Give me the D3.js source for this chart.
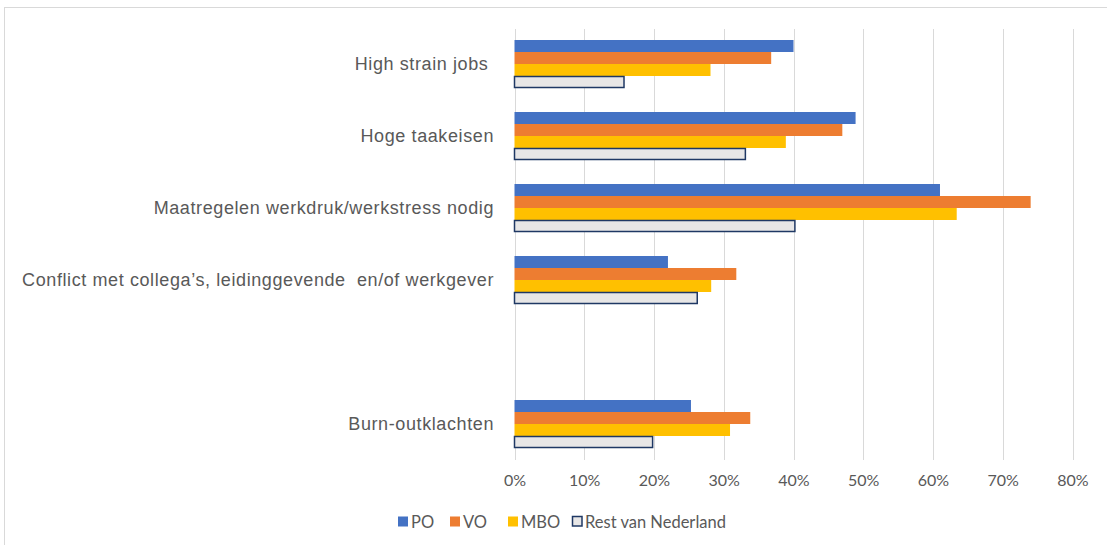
<!DOCTYPE html>
<html><head><meta charset="utf-8">
<script src="https://cdn.jsdelivr.net/npm/d3@7"></script>
<style>body{margin:0;background:#fff}svg{display:block}</style>
</head><body>
<svg id="c" width="1107" height="545"></svg>
<script>
const categories = ["High strain jobs ", "Hoge taakeisen", "Maatregelen werkdruk/werkstress nodig", "Conflict met collega\u2019s, leidinggevende  en/of werkgever", "", "Burn-outklachten"];
const seriesNames = ["PO", "VO", "MBO", "Rest van Nederland"];
const PO   = [40.0, 48.9, 61.0, 22.0, null, 25.3];
const VO   = [36.8, 47.0, 74.0, 31.8, null, 33.8];
const MBO  = [28.1, 38.9, 63.4, 28.2, null, 30.9];
const REST = [15.7, 33.1, 40.2, 26.2, null, 19.8];
const tickValues = [0, 10, 20, 30, 40, 50, 60, 70, 80];
const colors = ["#4472C4", "#ED7D31", "#FFC000", "#E7E6E6"];

const svg = d3.select("#c");
// outer frame
svg.append("rect").attr("x", 4.5).attr("y", 7.5).attr("width", 1120).attr("height", 560)
  .attr("fill", "none").attr("stroke", "#d9d9d9").attr("stroke-width", 1);

const x = d3.scaleLinear().domain([0, 80]).range([514.5, 1072.5]);
const y = d3.scaleBand().domain(d3.range(categories.length)).range([28, 460]).paddingInner(1/3).paddingOuter(1/6);
const ySub = d3.scaleBand().domain(d3.range(4)).range([0, y.bandwidth()]);

// gridlines
svg.append("g").selectAll("line").data(tickValues).join("line")
  .attr("x1", d => Math.round(x(d)) + 0.5).attr("x2", d => Math.round(x(d)) + 0.5)
  .attr("y1", 29).attr("y2", 460)
  .attr("stroke", "#d9d9d9").attr("stroke-width", 1);

// x axis labels
const xAxis = d3.axisBottom(x).tickValues(tickValues).tickFormat(d => d + "%").tickSize(0).tickPadding(0);
const gx = svg.append("g").attr("transform", "translate(0,475)").call(xAxis);
gx.select(".domain").remove();
gx.selectAll("text").attr("font-family", "Lato, 'Open Sans', sans-serif").attr("font-size", 16).attr("fill", "#595959");

// y labels
const yAxis = d3.axisLeft(y).tickFormat(i => categories[i]).tickSize(0).tickPadding(0);
const gy = svg.append("g").attr("transform", "translate(494,0)").call(yAxis);
gy.select(".domain").remove();
gy.selectAll("text").attr("font-family", "'Liberation Sans', Arial, sans-serif").attr("font-size", 18)
  .attr("letter-spacing", "0.6px").attr("fill", "#595959")
  .style("white-space", "pre").attr("dy", "0.35em");

// bars
const series = [PO, VO, MBO, REST];
series.forEach((vals, s) => {
  svg.append("g").selectAll("rect")
    .data(vals.map((v, i) => ({v, i})).filter(d => d.v != null))
    .join("rect")
    .attr("x", x(0))
    .attr("y", d => y(d.i) + ySub(s) + (s === 3 ? 0.5 : 0))
    .attr("width", d => x(d.v) - x(0))
    .attr("height", ySub.bandwidth() - (s === 3 ? 1 : 0))
    .attr("fill", colors[s])
    .attr("stroke", s === 3 ? "#1F3864" : "none")
    .attr("stroke-width", s === 3 ? 1.5 : 0);
});

// legend
const legendX = [398, 450, 508, 572];
const lg = svg.append("g");
seriesNames.forEach((n, s) => {
  lg.append("rect").attr("x", legendX[s] + (s === 3 ? 0.5 : 0)).attr("y", 516.5).attr("width", s === 3 ? 9.5 : 10).attr("height", s === 3 ? 9.5 : 10)
    .attr("fill", colors[s]).attr("stroke", s === 3 ? "#1F3864" : "none").attr("stroke-width", s === 3 ? 1.5 : 0);
  lg.append("text").attr("x", legendX[s] + 13).attr("y", 527.5).text(n)
    .attr("font-family", "Lato, 'Open Sans', sans-serif").attr("font-size", 16.5).attr("fill", "#595959");
});
</script>
</body></html>
